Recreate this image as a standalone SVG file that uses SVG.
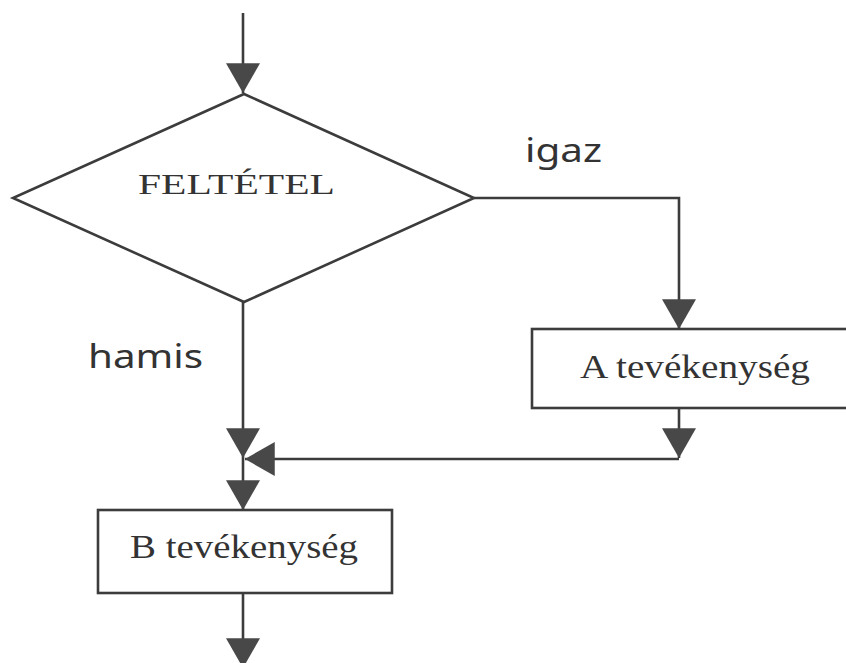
<svg xmlns="http://www.w3.org/2000/svg" width="846" height="663" viewBox="0 0 846 663">
<style>
.ln{fill:none;stroke:#3c3c3c;stroke-width:2.6}
.shape{fill:#ffffff;stroke:#3c3c3c;stroke-width:2.6}
.serif{font-family:"Liberation Serif","Times New Roman",serif;fill:#333333}
.sans{font-family:"Noto Sans","Open Sans",sans-serif;fill:#333333}
</style>
<defs>
<marker id="ah" markerUnits="userSpaceOnUse" markerWidth="30" markerHeight="34" viewBox="0 0 28 32" refX="28" refY="16" orient="auto">
<path d="M0,0 L28,16 L0,32 Z" fill="#484848"/>
</marker>
</defs>
<rect width="846" height="663" fill="#ffffff"/>
<g id="connectors">
<line class="ln" x1="243" y1="13" x2="243" y2="93" marker-end="url(#ah)"/>
<polyline class="ln" points="474,198 679,198 679,329" marker-end="url(#ah)"/>
<line class="ln" x1="679" y1="408" x2="679" y2="458" marker-end="url(#ah)"/>
<line class="ln" x1="679" y1="459" x2="245" y2="459" marker-end="url(#ah)"/>
<line class="ln" x1="243" y1="302" x2="243" y2="458" marker-end="url(#ah)"/>
<line class="ln" x1="243" y1="458" x2="243" y2="510" marker-end="url(#ah)"/>
<line class="ln" x1="243" y1="593" x2="243" y2="668" marker-end="url(#ah)"/>
<text class="sans" x="525" y="162" font-size="32" textLength="77" lengthAdjust="spacingAndGlyphs">igaz</text>
<text class="sans" x="88" y="368" font-size="33" textLength="115" lengthAdjust="spacingAndGlyphs">hamis</text>
</g>
<g id="decision">
<polygon class="shape" points="244,94 474,198 244,302 13,198"/>
<text class="serif" x="138" y="194" font-size="30" textLength="197" lengthAdjust="spacingAndGlyphs">FELTÉTEL</text>
</g>
<g id="activityA">
<rect class="shape" x="532" y="329" width="320" height="79"/>
<text class="serif" x="580" y="378" font-size="34" textLength="230" lengthAdjust="spacingAndGlyphs">A tevékenység</text>
</g>
<g id="activityB">
<rect class="shape" x="98" y="510" width="294" height="83"/>
<text class="serif" x="130" y="558" font-size="34" textLength="228" lengthAdjust="spacingAndGlyphs">B tevékenység</text>
</g>
</svg>
